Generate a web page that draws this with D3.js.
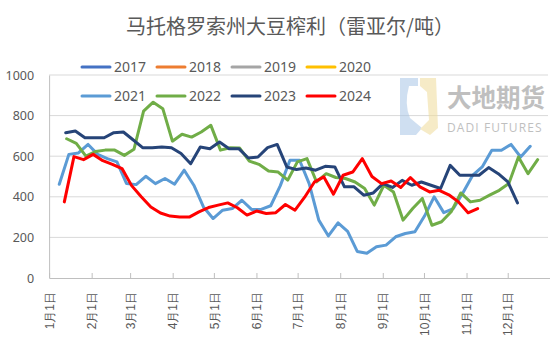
<!DOCTYPE html>
<html>
<head>
<meta charset="utf-8">
<script src="https://cdn.jsdelivr.net/npm/d3@7"></script>
<style>
  body { margin: 0; background: #fff; }
  svg { display: block; font-family: "Noto Sans CJK SC", "Noto Sans", sans-serif; }
</style>
</head>
<body>
<svg id="chart"></svg>
<script>
var width = 550;
var height = 346;

var title = "马托格罗索州大豆榨利（雷亚尔/吨）";

// month starts (day of year) and labels for the x axis
var monthDays = [0, 31, 59, 90, 120, 151, 181, 212, 243, 273, 304, 334];
var monthLabels = ["1月1日", "2月1日", "3月1日", "4月1日", "5月1日", "6月1日",
                   "7月1日", "8月1日", "9月1日", "10月1日", "11月1日", "12月1日"];
var yTicks = [0, 200, 400, 600, 800, 1000];

var years = ["2017", "2018", "2019", "2020", "2021", "2022", "2023", "2024"];
var colors = ["#4472C4", "#ED7D31", "#A5A5A5", "#FFC000", "#5B9BD5", "#70AD47", "#264478", "#FF0000"];

// weekly values, first day of year for each series
var start2021 = 7.4;
var values2021 = [462, 609, 616, 658, 609, 588, 572, 465, 460, 501, 465, 490, 462, 531, 457, 350, 293, 334, 342, 383,
                  338, 338, 356, 455, 580, 580, 465, 285, 207, 272, 230, 131, 122, 154, 162, 203, 219, 228, 305, 400,
                  322, 342, 420, 505, 547, 629, 629, 658, 596, 649];
var start2022 = 12.8;
var values2022 = [686, 663, 600, 623, 630, 630, 604, 634, 822, 866, 834, 674, 708, 694, 719, 752, 630, 642, 640, 576,
                  560, 527, 522, 482, 572, 588, 473, 514, 495, 490, 473, 441, 359, 457, 424, 285, 342, 392, 260, 277,
                  326, 419, 375, 383, 408, 432, 465, 596, 514, 583];
var start2023 = 12.1;
var values2023 = [716, 724, 691, 691, 691, 716, 719, 681, 642, 642, 645, 642, 613, 563, 645, 637, 670, 637, 637, 591,
                  596, 642, 658, 547, 534, 542, 531, 550, 547, 449, 449, 408, 419, 465, 446, 481, 457, 473, 457, 441,
                  555, 506, 506, 506, 544, 514, 473, 370];
var start2024 = 11.1;
var values2024 = [375, 598, 583, 609, 578, 560, 539, 455, 400, 350, 320, 305, 301, 300, 326, 347, 359, 370, 346, 310,
                  330, 318, 322, 362, 334, 398, 472, 498, 413, 506, 522, 588, 500, 465, 478, 446, 495, 449, 424, 432,
                  410, 375, 321, 342];

var svg = d3.select("#chart")
            .attr("width", width)
            .attr("height", height);

var x = d3.scaleLinear()
          .domain([0, 365])
          .range([49.1, 550.3]);

var y = d3.scaleLinear()
          .domain([0, 1000])
          .range([278, 75]);

// title
svg.append("text")
   .attr("x", 290)
   .attr("y", 34)
   .attr("text-anchor", "middle")
   .attr("font-size", 20)
   .attr("fill", "#595959")
   .text(title);

// gridlines
svg.append("g")
   .selectAll("line")
   .data(yTicks.slice(1))
   .enter()
   .append("line")
   .attr("x1", x(0))
   .attr("x2", 548)
   .attr("y1", function(d) { return y(d); })
   .attr("y2", function(d) { return y(d); })
   .attr("stroke", "#D9D9D9")
   .attr("stroke-width", 1);

// y axis
var yAxis = d3.axisLeft(y)
              .tickValues(yTicks)
              .tickFormat(d3.format("d"))
              .tickSize(0)
              .tickPadding(15);

var gy = svg.append("g")
            .attr("transform", "translate(" + x(0) + ",0)")
            .call(yAxis);
gy.select(".domain").attr("stroke", "#BFBFBF");
gy.selectAll("text")
  .attr("font-size", 12.5)
  .attr("fill", "#595959")
  .style("font-family", "'Noto Sans', sans-serif");

// x axis
var xAxis = d3.axisBottom(x)
              .tickValues(monthDays)
              .tickFormat(function(d, i) { return monthLabels[i]; })
              .tickSizeInner(-5)
              .tickSizeOuter(0)
              .tickPadding(14);

var gx = svg.append("g")
            .attr("transform", "translate(0," + y(0) + ")")
            .call(xAxis);
gx.select(".domain").attr("stroke", "#BFBFBF");
gx.selectAll(".tick line").attr("stroke", "#BFBFBF");
gx.selectAll("text")
  .attr("font-size", 12)
  .attr("fill", "#595959")
  .attr("text-anchor", "end")
  .attr("dy", "0.35em")
  .attr("transform", "translate(0,14) rotate(-90)")
  .attr("x", 0)
  .attr("y", 0);

// watermark
var wm = svg.append("g").attr("opacity", 0.55);
wm.append("path")
  .attr("d", "M400,78 L418,78 L418,86 L409,86 Q404,104 410,118 L422,128 L416,135 L400,135 Z")
  .attr("fill", "#A9C6E6");
wm.append("path")
  .attr("d", "M420,78 L436,78 L438,128 L430,135 L420,129 L429,120 L427,92 L420,86 Z")
  .attr("fill", "#F0DC9A");
wm.append("text")
  .attr("x", 447)
  .attr("y", 107)
  .attr("font-size", 24.5)
  .attr("font-weight", "bold")
  .attr("fill", "#8C8C8C")
  .text("大地期货");
wm.append("text")
  .attr("x", 447)
  .attr("y", 132)
  .attr("font-size", 12)
  .attr("letter-spacing", 1.1)
  .attr("fill", "#8C8C8C")
  .style("font-family", "'Open Sans', sans-serif")
  .text("DADI FUTURES");

// series
var series = [
  { name: "2021", start: start2021, values: values2021 },
  { name: "2022", start: start2022, values: values2022 },
  { name: "2023", start: start2023, values: values2023 },
  { name: "2024", start: start2024, values: values2024 }
];

series.forEach(function(s) {
  var path = d3.line()
               .x(function(d, i) { return x(s.start + i * 7); })
               .y(function(d) { return y(d); });
  svg.append("path")
     .datum(s.values)
     .attr("d", path)
     .attr("fill", "none")
     .attr("stroke", colors[years.indexOf(s.name)])
     .attr("stroke-width", 3)
     .attr("stroke-linejoin", "round")
     .attr("stroke-linecap", "round");
});

// legend
var legend = svg.append("g")
                .selectAll("g")
                .data(years)
                .enter()
                .append("g")
                .attr("transform", function(d, i) {
                  return "translate(" + (82 + (i % 4) * 75) + "," + (67 + Math.floor(i / 4) * 29) + ")";
                });

legend.append("line")
      .attr("x1", 0)
      .attr("x2", 28)
      .attr("stroke", function(d, i) { return colors[i]; })
      .attr("stroke-width", 3)
      .attr("stroke-linecap", "round");

legend.append("text")
      .attr("x", 32)
      .attr("dy", "0.36em")
      .attr("font-size", 14)
      .attr("fill", "#595959")
      .style("font-family", "'Noto Sans', sans-serif")
      .text(function(d) { return d; });
</script>
</body>
</html>
